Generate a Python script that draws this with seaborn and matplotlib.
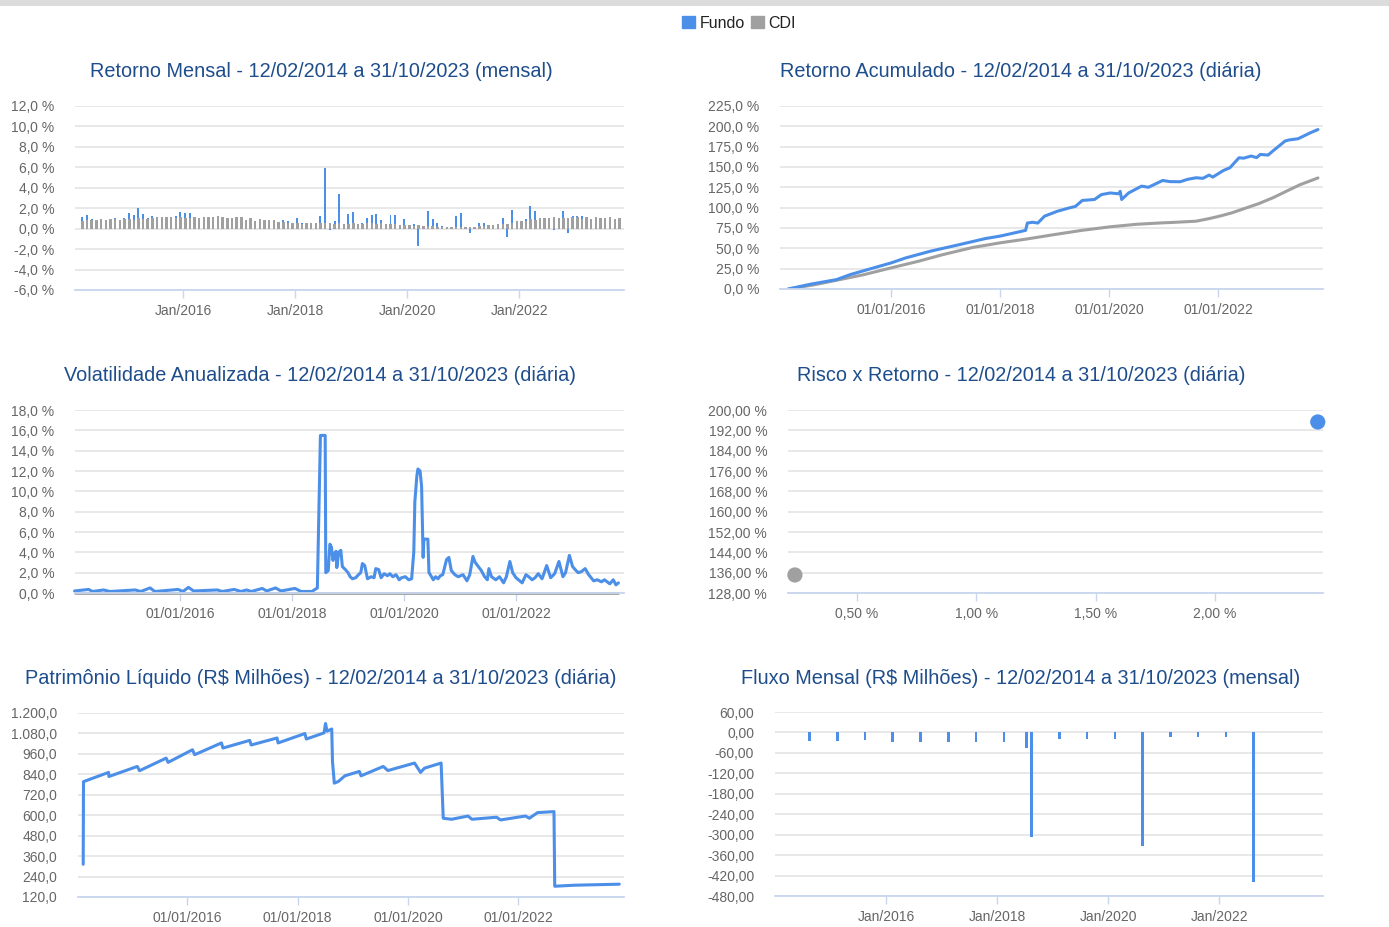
import matplotlib
matplotlib.use('Agg')
import pandas as pd
import matplotlib.pyplot as plt
import seaborn as sns
from matplotlib.patches import Patch, Rectangle
from matplotlib.ticker import FuncFormatter

sns.set_theme(style='whitegrid')
plt.rcParams['font.family'] = ['Liberation Sans', 'DejaVu Sans']

# cores
AZUL = '#4C8FE8'
CINZA = '#A0A0A0'
TITULO = '#1E4D8C'
TEXTO = '#666666'
GRADE = '#E6E6E6'
EIXO = '#C8D6EE'

# ---------------- dados ----------------
# retorno mensal (%), mar/2014 a out/2023
meses = pd.date_range('2014-03-01', '2023-10-01', freq='MS')
cdi_mensal = [
    0.76, 0.82, 0.86, 0.82, 0.94, 0.86, 0.90, 0.94, 0.84, 0.96,
    0.93, 0.82, 1.04, 0.95, 0.98, 1.07, 1.18, 1.11, 1.11, 1.11, 1.06, 1.16,
    1.05, 1.00, 1.16, 1.05, 1.11, 1.16, 1.11, 1.21, 1.11, 1.05, 1.04, 1.12,
    1.09, 0.87, 1.05, 0.79, 0.93, 0.81, 0.80, 0.80, 0.64, 0.64, 0.57, 0.54,
    0.58, 0.46, 0.53, 0.52, 0.52, 0.52, 0.54, 0.57, 0.47, 0.54, 0.49, 0.49,
    0.54, 0.49, 0.47, 0.52, 0.54, 0.47, 0.57, 0.50, 0.46, 0.48, 0.38, 0.37,
    0.38, 0.29, 0.34, 0.28, 0.24, 0.21, 0.19, 0.16, 0.16, 0.16, 0.15, 0.16,
    0.15, 0.13, 0.20, 0.21, 0.27, 0.31, 0.36, 0.43, 0.44, 0.49, 0.59, 0.77,
    0.73, 0.75, 0.93, 0.83, 1.03, 1.02, 1.03, 1.17, 1.07, 1.02, 1.02, 1.12,
    1.12, 0.92, 1.17, 0.92, 1.12, 1.07, 1.07, 1.14, 0.97, 1.00,
]
fundo_mensal = [
    1.10, 1.35, 0.90, 0.82, 0.94, 0.86, 0.90, 1.05, 0.84, 1.00,
    1.50, 1.35, 2.00, 1.40, 1.00, 1.20, 1.18, 1.11, 1.11, 1.11, 1.20, 1.65,
    1.50, 1.50, 1.16, 1.05, 1.11, 1.16, 1.11, 1.21, 1.11, 1.05, 1.04, 1.12,
    1.09, 0.87, 1.05, 0.79, 0.93, 0.81, 0.80, 0.80, 0.64, 0.85, 0.70, 0.54,
    1.00, 0.55, 0.53, 0.52, 0.52, 1.25, 5.95, -0.15, 0.70, 3.40, 0.49, 1.40,
    1.60, 0.49, 0.55, 1.00, 1.35, 1.45, 0.80, 0.50, 1.35, 1.35, 0.38, 0.90,
    0.38, 0.50, -1.70, 0.28, 1.75, 0.90, 0.55, 0.25, 0.10, 0.05, 1.20, 1.50,
    0.10, -0.45, 0.15, 0.55, 0.55, 0.20, 0.25, 0.30, 1.05, -0.80, 1.85, 0.77,
    0.73, 0.95, 2.25, 1.75, 0.83, 1.02, 1.03, -0.15, 1.07, 1.75, -0.45, 1.20,
    1.20, 1.20, 1.17, 0.92, 1.12, 1.07, 1.07, 1.14, 0.97, 1.00,
]

# retorno acumulado (%)
acum_fundo_datas = [
    '2014-02-12', '2014-07-15', '2015-01-01', '2015-04-01', '2015-08-20', '2016-01-01',
    '2016-04-05', '2016-09-20', '2017-04-05', '2017-09-25', '2018-01-01', '2018-06-20',
    '2018-07-02', '2018-08-05', '2018-09-10', '2018-10-25', '2019-01-20', '2019-04-12',
    '2019-05-20', '2019-07-05', '2019-09-25', '2019-11-10', '2020-01-08', '2020-03-05',
    '2020-03-15', '2020-03-25', '2020-05-10', '2020-08-05', '2020-09-20', '2020-10-30',
    '2020-12-25', '2021-02-10', '2021-04-20', '2021-06-10', '2021-08-05', '2021-09-20',
    '2021-11-01', '2021-11-25', '2022-02-05', '2022-03-20', '2022-05-20', '2022-06-20',
    '2022-08-10', '2022-09-15', '2022-10-10', '2022-12-01', '2023-01-01', '2023-03-25',
    '2023-04-20', '2023-06-20', '2023-09-10', '2023-10-31',
]
acum_fundo = [
    0, 6, 11.5, 17.6, 25, 32,
    38, 46.4, 54.6, 62, 65, 72,
    81, 82, 81, 89.5, 95.6, 99.8,
    101.5, 108.8, 110, 116, 118, 117,
    120, 110, 118, 126.4, 125, 128.5,
    133.4, 132, 131.8, 134.8, 136.7, 136,
    140, 137.5, 145.7, 149, 161.3, 160.8,
    163.4, 161.5, 165.4, 164.6, 169.5, 181.9,
    183.2, 184.7, 192, 196,
]
acum_cdi_datas = [
    '2014-02-12', '2014-08-01', '2015-01-01', '2015-07-01', '2016-01-01', '2016-07-01',
    '2016-12-15', '2017-07-01', '2018-01-01', '2018-07-01', '2019-01-01', '2019-07-01',
    '2020-01-08', '2020-07-01', '2020-12-25', '2021-03-01', '2021-08-05', '2021-11-01',
    '2022-01-10', '2022-04-01', '2022-07-10', '2022-10-01', '2023-01-01', '2023-04-01',
    '2023-07-01', '2023-10-31',
]
acum_cdi = [
    0, 5, 10.7, 17.5, 25.9, 34,
    42.3, 51, 56.7, 61.5, 66.9, 72,
    76.4, 79.5, 81.3, 81.8, 83.3, 86.5,
    89.5, 93.5, 99.8, 105, 112, 120,
    128, 136.5,
]

# volatilidade anualizada (%)
vol_datas = [
    '2014-02-12', '2014-05-15', '2014-06-10', '2014-08-20', '2014-10-01', '2015-03-15',
    '2015-04-20', '2015-06-20', '2015-07-20', '2015-12-20', '2016-01-20', '2016-02-25',
    '2016-03-30', '2016-09-01', '2016-10-01', '2016-12-20', '2017-02-01', '2017-03-10',
    '2017-04-10', '2017-06-20', '2017-07-20', '2017-09-15', '2017-10-20', '2018-01-20',
    '2018-03-01', '2018-05-10', '2018-06-15', '2018-07-05', '2018-08-05', '2018-08-09',
    '2018-08-25', '2018-09-05', '2018-09-15', '2018-09-25', '2018-10-05', '2018-10-15',
    '2018-10-20', '2018-11-01', '2018-11-15', '2018-11-25', '2018-12-15', '2019-01-01',
    '2019-01-15', '2019-01-30', '2019-02-20', '2019-03-10', '2019-03-25', '2019-04-05',
    '2019-04-20', '2019-05-08', '2019-06-01', '2019-06-20', '2019-07-01', '2019-07-20',
    '2019-08-05', '2019-08-25', '2019-09-15', '2019-10-01', '2019-10-20', '2019-11-10',
    '2019-12-01', '2019-12-16', '2020-01-10', '2020-02-01', '2020-02-20', '2020-03-05',
    '2020-03-12', '2020-03-25', '2020-04-01', '2020-04-15', '2020-04-25', '2020-05-01',
    '2020-05-05', '2020-05-10', '2020-06-05', '2020-06-12', '2020-06-25', '2020-07-10',
    '2020-07-25', '2020-08-10', '2020-08-25', '2020-09-10', '2020-10-05', '2020-10-20',
    '2020-11-05', '2020-11-28', '2020-12-20', '2021-01-20', '2021-02-15', '2021-03-05',
    '2021-03-26', '2021-04-10', '2021-04-25', '2021-05-20', '2021-06-10', '2021-06-28',
    '2021-07-08', '2021-07-25', '2021-08-22', '2021-09-15', '2021-10-12', '2021-10-30',
    '2021-11-22', '2021-12-10', '2022-01-01', '2022-02-10', '2022-03-07', '2022-03-25',
    '2022-04-16', '2022-05-05', '2022-05-26', '2022-06-20', '2022-07-20', '2022-08-15',
    '2022-09-10', '2022-10-08', '2022-11-03', '2022-11-20', '2022-12-15', '2023-01-05',
    '2023-01-22', '2023-02-10', '2023-03-03', '2023-03-28', '2023-04-20', '2023-05-22',
    '2023-06-15', '2023-07-12', '2023-08-01', '2023-09-05', '2023-09-27', '2023-10-15',
    '2023-10-31',
]
vol_fundo = [
    0.2, 0.35, 0.15, 0.3, 0.15, 0.3,
    0.15, 0.5, 0.15, 0.35, 0.15, 0.55,
    0.2, 0.3, 0.15, 0.35, 0.15, 0.3,
    0.15, 0.45, 0.2, 0.5, 0.2, 0.45,
    0.15, 0.15, 0.5, 15.5, 15.5, 2.0,
    2.2, 4.8, 4.5, 3.2, 3.9, 4.1,
    2.5, 4.0, 4.2, 2.6, 2.3, 2.0,
    1.6, 1.4, 1.5, 1.8, 2.0, 2.9,
    2.7, 1.4, 1.6, 1.5, 2.4, 2.3,
    1.5, 1.9, 1.7, 1.9, 1.6, 1.8,
    1.3, 1.5, 1.6, 1.3, 1.4, 4.0,
    9.0, 11.5, 12.2, 12.0, 10.5, 6.0,
    3.5, 5.3, 5.3, 2.0, 1.7, 1.3,
    1.6, 1.4, 1.7, 1.8, 3.3, 3.5,
    2.2, 1.8, 1.6, 1.8, 1.2, 1.8,
    3.6, 3.0, 2.7, 2.2, 1.6, 1.3,
    2.4, 1.6, 1.3, 1.6, 1.0, 1.6,
    3.1, 2.0, 1.5, 1.0, 1.8, 1.6,
    1.3, 1.5, 1.9, 1.4, 2.7, 1.5,
    1.9, 3.1, 1.6, 2.0, 3.7, 2.6,
    2.3, 2.0, 2.1, 2.4, 1.8, 1.2,
    1.3, 1.1, 1.3, 0.9, 1.3, 0.8,
    1.0,
]
vol_cdi_datas = ['2014-02-12', '2023-10-31']
vol_cdi = [0.0, 0.0]

# risco x retorno
rr_nomes = ['CDI', 'Fundo']
rr_risco = [0.24, 2.43]
rr_retorno = [135.1, 195.3]

# patrimonio liquido (R$ milhoes)
pl_datas = [
    '2014-02-12', '2014-02-14', '2014-07-30', '2014-08-01', '2015-02-05', '2015-02-20',
    '2015-08-15', '2015-08-28', '2016-02-05', '2016-02-20', '2016-08-15', '2016-08-25',
    '2017-02-18', '2017-02-28', '2017-08-18', '2017-08-25', '2018-02-18', '2018-02-28',
    '2018-06-25', '2018-07-05', '2018-07-15', '2018-08-15', '2018-08-20', '2018-09-01',
    '2018-09-28', '2018-11-10', '2019-02-14', '2019-02-25', '2019-07-22', '2019-08-22',
    '2020-02-14', '2020-03-25', '2020-04-20', '2020-08-08', '2020-08-22', '2020-10-16',
    '2021-02-02', '2021-02-28', '2021-08-10', '2021-09-05', '2022-02-17', '2022-03-15',
    '2022-05-08', '2022-08-25', '2022-08-30', '2023-01-08', '2023-10-31',
]
pl_valores = [
    312, 797, 851, 827, 886, 861,
    935, 910, 984, 955, 1024, 994,
    1039, 1012, 1053, 1024, 1079, 1047,
    1083, 1138, 1093, 1106, 915, 788,
    798, 831, 857, 831, 886, 862,
    906, 851, 876, 906, 582, 576,
    595, 576, 588, 572, 595, 582,
    615, 621, 183, 189, 195,
]

# fluxo mensal (R$ milhoes)
fluxo_meses = [
    '2014-08-15', '2015-02-15', '2015-08-15', '2016-02-15', '2016-08-15', '2017-02-15',
    '2017-08-15', '2018-02-15', '2018-07-15', '2018-08-15', '2019-02-15', '2019-08-15',
    '2020-02-15', '2020-08-15', '2021-02-15', '2021-08-15', '2022-02-15', '2022-08-15',
]
fluxo_valores = [
    -26, -24, -22, -27, -27, -27,
    -27, -27, -45, -306, -18, -18,
    -18, -333, -14, -14, -14, -438,
]

# eixos x
anos_ticks = pd.to_datetime(['2016-01-01', '2018-01-01', '2020-01-01', '2022-01-01'])
rotulos_jan = ['Jan/2016', 'Jan/2018', 'Jan/2020', 'Jan/2022']
rotulos_dia = ['01/01/2016', '01/01/2018', '01/01/2020', '01/01/2022']


def br(v, dec):
    s = f'{v:,.{dec}f}'
    return s.replace(',', 'X').replace('.', ',').replace('X', '.')


def estilo(ax, yticks, fmt, xlim, xticks=None, xlabels=None):
    ax.set_ylim(yticks[0], yticks[-1])
    ax.set_yticks(yticks)
    ax.yaxis.set_major_formatter(FuncFormatter(fmt))
    ax.set_xlim(*xlim)
    if xticks is not None:
        ax.set_xticks(xticks)
        ax.set_xticklabels(xlabels)
    ax.grid(axis='y', color=GRADE, lw=1.3)
    ax.grid(axis='x', visible=False)
    for s in ['top', 'right', 'left']:
        ax.spines[s].set_visible(False)
    ax.spines['bottom'].set_color(EIXO)
    ax.spines['bottom'].set_linewidth(1.3)
    ax.tick_params(axis='y', length=0, pad=15, labelsize=10, labelcolor=TEXTO)
    ax.tick_params(axis='x', length=6, width=1, color=EIXO, pad=4, bottom=True,
                   labelsize=10, labelcolor=TEXTO)
    ax.set_xlabel('')
    ax.set_ylabel('')
    ax.set_facecolor('white')


def d(s):
    return pd.Timestamp(s)


fig = plt.figure(figsize=(13.89, 9.27), dpi=100)
fig.patch.set_facecolor('white')
fig.add_artist(Rectangle((0, 1 - 6 / 927), 1, 6 / 927, transform=fig.transFigure,
                         color='#DCDCDC', lw=0))

# 1) retorno mensal (CDI por cima, fundo aparece só quando passa do CDI)
ax1 = fig.add_axes([0.0540, 0.6872, 0.3952, 0.1985])
ax1.bar(meses + pd.Timedelta(days=14), fundo_mensal, width=13, color=AZUL, lw=0, zorder=2)
ax1.bar(meses + pd.Timedelta(days=15), cdi_mensal, width=16, color=CINZA, lw=0, zorder=3)
estilo(ax1, [-6, -4, -2, 0, 2, 4, 6, 8, 10, 12], lambda v, p: br(v, 1) + ' %',
       (d('2014-01-27'), d('2023-11-15')), anos_ticks, rotulos_jan)

# 2) retorno acumulado
ax2 = fig.add_axes([0.5616, 0.6883, 0.3909, 0.1974])
sns.lineplot(x=pd.to_datetime(acum_cdi_datas), y=acum_cdi, ax=ax2, color=CINZA, lw=2.2)
sns.lineplot(x=pd.to_datetime(acum_fundo_datas), y=acum_fundo, ax=ax2, color=AZUL, lw=2.2)
estilo(ax2, [0, 25, 50, 75, 100, 125, 150, 175, 200, 225], lambda v, p: br(v, 1) + ' %',
       (d('2013-12-18'), d('2023-12-04')), anos_ticks, rotulos_dia)

# 3) volatilidade
ax3 = fig.add_axes([0.0540, 0.3603, 0.3952, 0.1974])
sns.lineplot(x=pd.to_datetime(vol_cdi_datas), y=vol_cdi, ax=ax3, color=CINZA, lw=2.0)
sns.lineplot(x=pd.to_datetime(vol_datas), y=vol_fundo, ax=ax3, color=AZUL, lw=2.2)
for ln in ax3.lines:
    ln.set_clip_on(False)
estilo(ax3, [0, 2, 4, 6, 8, 10, 12, 14, 16, 18], lambda v, p: br(v, 1) + ' %',
       (d('2014-02-15'), d('2023-12-06')), anos_ticks, rotulos_dia)

# 4) risco x retorno
ax4 = fig.add_axes([0.5673, 0.3603, 0.3852, 0.1974])
sns.scatterplot(x=rr_risco, y=rr_retorno, hue=rr_nomes, palette=[CINZA, AZUL],
                s=120, edgecolor='none', legend=False, ax=ax4, zorder=3)
for c in ax4.collections:
    c.set_clip_on(False)
estilo(ax4, [128, 136, 144, 152, 160, 168, 176, 184, 192, 200],
       lambda v, p: br(v, 2) + ' %', (0.211, 2.452), [0.5, 1.0, 1.5, 2.0],
       ['0,50 %', '1,00 %', '1,50 %', '2,00 %'])

# 5) patrimonio liquido
ax5 = fig.add_axes([0.0562, 0.0324, 0.3931, 0.1985])
sns.lineplot(x=pd.to_datetime(pl_datas), y=pl_valores, ax=ax5, color=AZUL, lw=2.2)
estilo(ax5, [120, 240, 360, 480, 600, 720, 840, 960, 1080, 1200],
       lambda v, p: br(v, 1), (d('2014-01-09'), d('2023-12-02')),
       anos_ticks, rotulos_dia)

# 6) fluxo mensal
ax6 = fig.add_axes([0.5580, 0.0334, 0.3945, 0.1985])
ax6.bar(pd.to_datetime(fluxo_meses), fluxo_valores, width=18, color=AZUL, lw=0, zorder=3)
estilo(ax6, [-480, -420, -360, -300, -240, -180, -120, -60, 0, 60],
       lambda v, p: br(v, 2), (d('2014-01-01'), d('2023-11-15')),
       anos_ticks, rotulos_jan)

# titulos
titulos = [
    (0.2311, 0.9224, 'Retorno Mensal - 12/02/2014 a 31/10/2023 (mensal)'),
    (0.7351, 0.9224, 'Retorno Acumulado - 12/02/2014 a 31/10/2023 (diária)'),
    (0.2307, 0.5954, 'Volatilidade Anualizada - 12/02/2014 a 31/10/2023 (diária)'),
    (0.7351, 0.5954, 'Risco x Retorno - 12/02/2014 a 31/10/2023 (diária)'),
    (0.2307, 0.2676, 'Patrimônio Líquido (R\\$ Milhões) - 12/02/2014 a 31/10/2023 (diária)'),
    (0.7347, 0.2676, 'Fluxo Mensal (R\\$ Milhões) - 12/02/2014 a 31/10/2023 (mensal)'),
]
for x, y, t in titulos:
    fig.text(x, y, t, ha='center', va='center', fontsize=14.3, color=TITULO)

# legenda
fig.legend(handles=[Patch(color=AZUL, label='Fundo'), Patch(color=CINZA, label='CDI')],
           loc='center', bbox_to_anchor=(0.532, 0.975), ncol=2, frameon=False,
           fontsize=11.5, handlelength=0.8, handleheight=0.8, handletextpad=0.3,
           columnspacing=0.4, labelcolor='#222222')

fig.savefig('out.png', dpi=100, facecolor='white')
